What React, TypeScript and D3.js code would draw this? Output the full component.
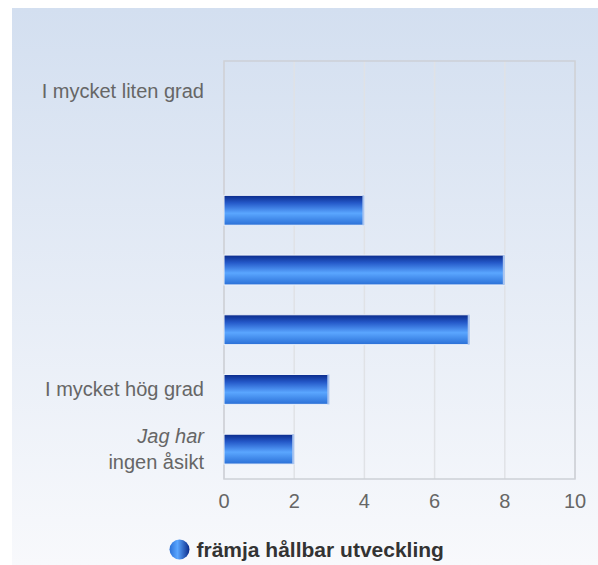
import React from "react";
import * as d3 from "d3";

const categories = ["I mycket liten grad", "2", "3", "4", "5", "I mycket hög grad", "Jag har ingen åsikt"];
const shownLabels = [["I mycket liten grad"], [], [], [], [], ["I mycket hög grad"], ["Jag har", "ingen åsikt"]];
const italicFirst = [false, false, false, false, false, false, true];
const values = [0, 0, 4, 8, 7, 3, 2];
const xTicks = [0, 2, 4, 6, 8, 10];
const seriesName = "främja hållbar utveckling";

export default function App() {
  const W = 598, H = 565;
  const left = 224, right = 575, top = 61, bottom = 479;
  const x = d3.scaleLinear().domain([0, 10]).range([left, right]);
  const y = d3.scaleBand().domain(categories).range([top, bottom]).paddingInner(0.5).paddingOuter(0.25);
  const font = "'Liberation Sans', Arial, sans-serif";
  return (
    <svg width={W} height={H} style={{ position: "absolute", left: 0, top: 0 }}>
      <defs>
        <linearGradient id="bg" x1="0" y1="0" x2="0" y2="1">
          <stop offset="0" stopColor="#d3dff0" />
          <stop offset="1" stopColor="#f8f9fc" />
        </linearGradient>
        <linearGradient id="bar" x1="0" y1="0" x2="0" y2="1">
          <stop offset="0" stopColor="#0a2a8a" />
          <stop offset="0.25" stopColor="#2458c8" />
          <stop offset="0.6" stopColor="#5aa6ff" />
          <stop offset="1" stopColor="#2a6fd6" />
        </linearGradient>
        <linearGradient id="leg" x1="0" y1="0" x2="1" y2="0">
          <stop offset="0" stopColor="#2a6fd6" />
          <stop offset="0.4" stopColor="#5aa6ff" />
          <stop offset="1" stopColor="#0a2a8a" />
        </linearGradient>
      </defs>
      <rect x={12} y={8} width={W - 12} height={H - 8} fill="url(#bg)" />
      {xTicks.map((t) => (
        <line key={t} x1={x(t)} x2={x(t)} y1={top} y2={bottom} stroke="#e0e2e6" strokeWidth={1.5} />
      ))}
      <rect x={left} y={top} width={right - left} height={bottom - top} fill="none" stroke="#cdd0d6" strokeWidth={1.5} />
      {values.map((v, i) =>
        v > 0 ? (
          <g key={i}>
            <rect x={x(0)} y={y(categories[i])!} width={x(v) - x(0)} height={y.bandwidth()} fill="url(#bar)" stroke="#eef3fb" strokeWidth={1} />
            <rect x={x(v) - 2} y={y(categories[i])!} width={2} height={y.bandwidth()} fill="#a9c4ef" />
          </g>
        ) : null
      )}
      {shownLabels.map((lines, i) => {
        const cy = y(categories[i])! + y.bandwidth() / 2;
        const n = lines.length;
        return lines.map((ln, j) => (
          <text
            key={i + "-" + j}
            x={204}
            y={cy + (j - (n - 1) / 2) * 26}
            dy="0.35em"
            textAnchor="end"
            fontFamily={font}
            fontSize={20}
            fill="#666"
            fontStyle={italicFirst[i] && j === 0 && n > 1 ? "italic" : "normal"}
          >
            {ln}
          </text>
        ));
      })}
      {xTicks.map((t) => (
        <text key={"t" + t} x={x(t)} y={501} dy="0.35em" textAnchor="middle" fontFamily={font} fontSize={20} fill="#666">
          {t}
        </text>
      ))}
      <circle cx={179.5} cy={549.5} r={10} fill="url(#leg)" />
      <text x={196.5} y={550} dy="0.35em" fontFamily={font} fontSize={21} fontWeight="bold" fill="#333">
        {seriesName}
      </text>
    </svg>
  );
}
